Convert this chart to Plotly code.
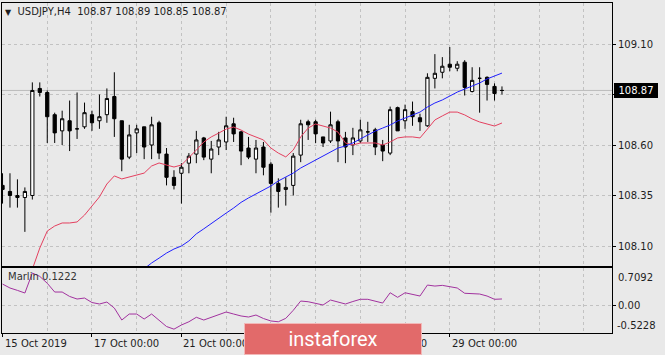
import plotly.graph_objects as go

# ---------------- data ----------------
idx = list(range(68))  # H4 bars, 15 Oct 2019 00:00 .. 29 Oct 2019 +7 bars

opens = [108.40, 108.37, 108.34, 108.34, 108.35, 108.88, 108.86, 108.75, 108.67, 108.72,
         108.68, 108.69, 108.75, 108.72, 108.75, 108.84, 108.72, 108.54, 108.66, 108.69,
         108.60, 108.71, 108.555, 108.44, 108.46, 108.51, 108.555, 108.635, 108.53, 108.59,
         108.615, 108.705, 108.665, 108.585, 108.53, 108.59, 108.505, 108.41, 108.38, 108.40,
         108.55, 108.715, 108.715, 108.64, 108.62, 108.715, 108.635, 108.60, 108.62, 108.665,
         108.675, 108.60, 108.56, 108.785, 108.72, 108.765, 108.735, 108.695, 108.93, 108.96,
         109.00, 108.98, 109.01, 108.865, 108.93, 108.935, 108.89, 108.87]
highs = [108.46, 108.46, 108.43, 108.39, 108.91, 108.91, 108.87, 108.76, 108.77, 108.82,
         108.86, 108.81, 108.77, 108.85, 108.88, 108.96, 108.72, 108.70, 108.70, 108.69,
         108.74, 108.72, 108.585, 108.475, 108.51, 108.56, 108.67, 108.64, 108.62, 108.665,
         108.74, 108.735, 108.67, 108.64, 108.625, 108.615, 108.515, 108.435, 108.44, 108.56,
         108.725, 108.725, 108.725, 108.64, 108.765, 108.725, 108.665, 108.685, 108.725, 108.715,
         108.685, 108.625, 108.79, 108.79, 108.80, 108.815, 108.755, 108.955, 109.05, 109.035,
         109.085, 109.015, 109.02, 108.985, 108.985, 108.94, 108.905, 108.89]
lows = [108.31, 108.29, 108.29, 108.17, 108.33, 108.84, 108.61, 108.61, 108.60, 108.57,
        108.63, 108.68, 108.67, 108.68, 108.71, 108.64, 108.47, 108.53, 108.56, 108.53,
        108.53, 108.53, 108.40, 108.38, 108.31, 108.46, 108.51, 108.525, 108.46, 108.55,
        108.575, 108.615, 108.50, 108.53, 108.46, 108.45, 108.265, 108.29, 108.30, 108.35,
        108.515, 108.625, 108.61, 108.59, 108.61, 108.515, 108.51, 108.55, 108.61, 108.615,
        108.55, 108.52, 108.55, 108.67, 108.68, 108.695, 108.67, 108.69, 108.88, 108.93,
        108.965, 108.965, 108.845, 108.86, 108.76, 108.82, 108.82, 108.85]
closes = [108.38, 108.35, 108.35, 108.37, 108.87, 108.86, 108.74, 108.66, 108.73, 108.67,
          108.68, 108.76, 108.71, 108.74, 108.83, 108.73, 108.53, 108.65, 108.68, 108.59,
          108.70, 108.56, 108.44, 108.40, 108.49, 108.545, 108.625, 108.54, 108.58, 108.625,
          108.695, 108.655, 108.57, 108.54, 108.585, 108.49, 108.41, 108.37, 108.39, 108.545,
          108.705, 108.70, 108.655, 108.61, 108.70, 108.62, 108.59, 108.635, 108.675, 108.665,
          108.59, 108.57, 108.775, 108.67, 108.775, 108.74, 108.715, 108.935, 108.955, 108.99,
          108.985, 109.00, 108.885, 108.92, 108.93, 108.90, 108.855, 108.87]

ma_red = [None] * 4 + [
    107.985, 108.09, 108.174, 108.199, 108.214, 108.214, 108.219, 108.253, 108.298, 108.343,
    108.407, 108.447, 108.432, 108.442, 108.451, 108.461, 108.496, 108.511, 108.501, 108.491,
    108.501, 108.536, 108.575, 108.615, 108.64, 108.659, 108.679, 108.689, 108.674, 108.654,
    108.64, 108.625, 108.585, 108.56, 108.541, 108.575, 108.64, 108.684, 108.704, 108.694,
    108.684, 108.664, 108.61, 108.60, 108.61, 108.61, 108.61, 108.60, 108.615, 108.635,
    108.64, 108.64, 108.635, 108.679, 108.724, 108.744, 108.763, 108.763, 108.749, 108.729,
    108.714, 108.704, 108.694, 108.709]
ma_blue = [None] * 19 + [
    107.987, 108.016, 108.04, 108.065, 108.085, 108.10, 108.125, 108.16, 108.185, 108.212,
    108.239, 108.263, 108.288, 108.316, 108.338, 108.357, 108.377, 108.397, 108.422, 108.442,
    108.461, 108.486, 108.506, 108.526, 108.546, 108.565, 108.585, 108.595, 108.61, 108.63,
    108.65, 108.669, 108.684, 108.699, 108.719, 108.734, 108.749, 108.763, 108.788, 108.808,
    108.823, 108.843, 108.862, 108.877, 108.892, 108.907, 108.927, 108.942, 108.956]

marlin = [0.405, 0.33, 0.285, 0.235, 0.614, 0.55, 0.42, 0.254, 0.254, 0.17,
          0.121, 0.14, 0.055, 0.027, 0.064, -0.05, -0.277, -0.163, -0.163, -0.258,
          -0.163, -0.286, -0.40, -0.45, -0.371, -0.31, -0.225, -0.277, -0.225, -0.182,
          -0.125, -0.163, -0.20, -0.22, -0.182, -0.248, -0.295, -0.31, -0.245, -0.093,
          0.083, 0.07, 0.045, 0.008, 0.102, 0.064, 0.027, 0.074, 0.116, 0.116,
          0.083, 0.045, 0.24, 0.153, 0.24, 0.206, 0.178, 0.386, 0.367, 0.38,
          0.36, 0.33, 0.23, 0.23, 0.216, 0.178, 0.116, 0.1222]

price_ticks = [109.10, 108.85, 108.60, 108.35, 108.10]
price_labels = ["109.10", "108.85", "108.60", "108.35", "108.10"]
date_idx = [0, 12, 24, 36, 48, 60]
date_labels = ["15 Oct 2019", "17 Oct 00:00", "21 Oct 00:00", "23 Oct 00:00",
               "25 Oct 00:00", "29 Oct 00:00"]
grid_idx = list(range(0, 79, 6))
title_text = "USDJPY,H4"
ohlc_text = "108.87 108.89 108.85 108.87"
last_price = 108.87
marlin_name = "Marlin 0.1222"
ind_max, ind_min = 0.7092, -0.5228

# ---------------- style ----------------
BG = "#e9e9e9"
GRID = "#c2c2c2"
FONT = "DejaVu Sans"
TXT = "#1e1e1e"

fig = go.Figure()
fig.add_trace(go.Candlestick(
    x=idx, open=opens, high=highs, low=lows, close=closes,
    increasing=dict(line=dict(color="#000000", width=1), fillcolor="#ffffff"),
    decreasing=dict(line=dict(color="#000000", width=1), fillcolor="#000000"),
    whiskerwidth=0, xaxis="x", yaxis="y", showlegend=False, hoverinfo="skip"))
fig.add_trace(go.Scatter(x=idx, y=ma_red, mode="lines", line=dict(color="#e4405f", width=1),
                         xaxis="x", yaxis="y", showlegend=False, hoverinfo="skip"))
fig.add_trace(go.Scatter(x=idx, y=ma_blue, mode="lines", line=dict(color="#2020ff", width=1),
                         xaxis="x", yaxis="y", showlegend=False, hoverinfo="skip"))
fig.add_trace(go.Scatter(x=idx, y=marlin, mode="lines", line=dict(color="#a2329f", width=1),
                         xaxis="x2", yaxis="y2", showlegend=False, hoverinfo="skip"))

# geometry: plot area x 2..612 px, y 3..333 px
W, H = 665, 355
ml, mr, mt, mb = 2, 53, 3, 22
pw, ph = W - ml - mr, H - mt - mb
def py(p):  # pixel y -> paper y
    return (H - mb - p) / ph
def px(p):  # pixel x -> paper x
    return (p - ml) / pw

xr = [-0.07, 81.76]
common = dict(showline=True, mirror=True, linecolor="#000000", linewidth=1,
              zeroline=False, fixedrange=True, automargin=False)
fig.update_layout(
    width=W, height=H, margin=dict(l=ml, r=mr, t=mt, b=mb, pad=0, autoexpand=False),
    paper_bgcolor=BG, plot_bgcolor=BG, hovermode=False, boxgap=0.38,
    font=dict(family=FONT, size=10, color=TXT),
    xaxis=dict(domain=[0, 1], anchor="y", range=xr, showticklabels=False,
               tickmode="array", tickvals=grid_idx, ticks="",
               showgrid=True, gridcolor=GRID, griddash="3px,3px", gridwidth=1,
               rangeslider=dict(visible=False), **common),
    yaxis=dict(domain=[py(266), 1], anchor="x", side="right", range=[108.001, 109.303],
               tickmode="array", tickvals=price_ticks, ticktext=price_labels,
               ticks="outside", ticklen=3, tickcolor="#000000",
               showgrid=True, gridcolor=GRID, griddash="3px,3px", **common),
    xaxis2=dict(domain=[0, 1], anchor="y2", matches="x", showticklabels=False,
                tickmode="array", tickvals=date_idx, ticks="outside", ticklen=3,
                tickcolor="#000000",
                showgrid=True, gridcolor=GRID, griddash="3px,3px",
                minor=dict(tickvals=[g for g in grid_idx if g not in date_idx],
                           showgrid=True, gridcolor=GRID, griddash="3px,3px", ticks=""),
                **common),
    yaxis2=dict(domain=[0, py(268)], anchor="x2", side="right", range=[ind_min, ind_max],
                tickmode="array", tickvals=[0], ticktext=["0.00"],
                ticks="outside", ticklen=3, tickcolor="#000000",
                showgrid=True, gridcolor=GRID, griddash="3px,3px", **common),
)

# bid line
fig.add_shape(type="line", xref="paper", yref="y", x0=0, x1=1, y0=last_price, y1=last_price,
              line=dict(color="#bdbdbd", width=1), layer="between")

ann = []
ann.append(dict(xref="paper", yref="paper", x=px(3), y=py(12), xanchor="left", yanchor="middle",
                text="<span style='font-size:8px'>▼</span>\u00a0\u00a0" + title_text +
                     "\u00a0\u00a0" + ohlc_text,
                showarrow=False, font=dict(size=10, color=TXT)))
ann.append(dict(xref="paper", yref="paper", x=px(6), y=py(276), xanchor="left", yanchor="middle",
                text=marlin_name, showarrow=False, font=dict(size=10, color="#333333")))
ann.append(dict(xref="paper", yref="paper", x=1, xshift=4, y=py(277), xanchor="left",
                yanchor="middle", text=f"{ind_max:.4f}", showarrow=False))
ann.append(dict(xref="paper", yref="paper", x=1, xshift=3, y=py(325), xanchor="left",
                yanchor="middle", text=f"{ind_min:.4f}", showarrow=False))
ann.append(dict(xref="paper", yref="y", x=1, xshift=2, y=last_price, xanchor="left",
                yanchor="middle", text=f"{last_price:.2f}", showarrow=False,
                bgcolor="#000000", bordercolor="#000000", borderwidth=1, borderpad=1,
                width=40, height=11, font=dict(color="#ffffff", size=10)))
for i, lab in zip(date_idx, date_labels):
    ann.append(dict(xref="x", yref="paper", x=i, y=py(343), xanchor="left", yanchor="middle",
                    text=lab, showarrow=False, xshift=0))
# instaforex badge (drawn last, on top)
ann.append(dict(xref="paper", yref="paper", x=px(333), y=py(339), xanchor="center",
                yanchor="middle", text="instaforex", showarrow=False,
                bgcolor="#e26a6a", bordercolor="#f2b8b8", borderwidth=1, borderpad=0,
                width=176, height=30, font=dict(family="Roboto", size=20, color="#ffffff")))
fig.update_layout(annotations=ann)

fig.write_html("out.html", config={"displayModeBar": False},
               post_script="document.body.style.margin='0';")
